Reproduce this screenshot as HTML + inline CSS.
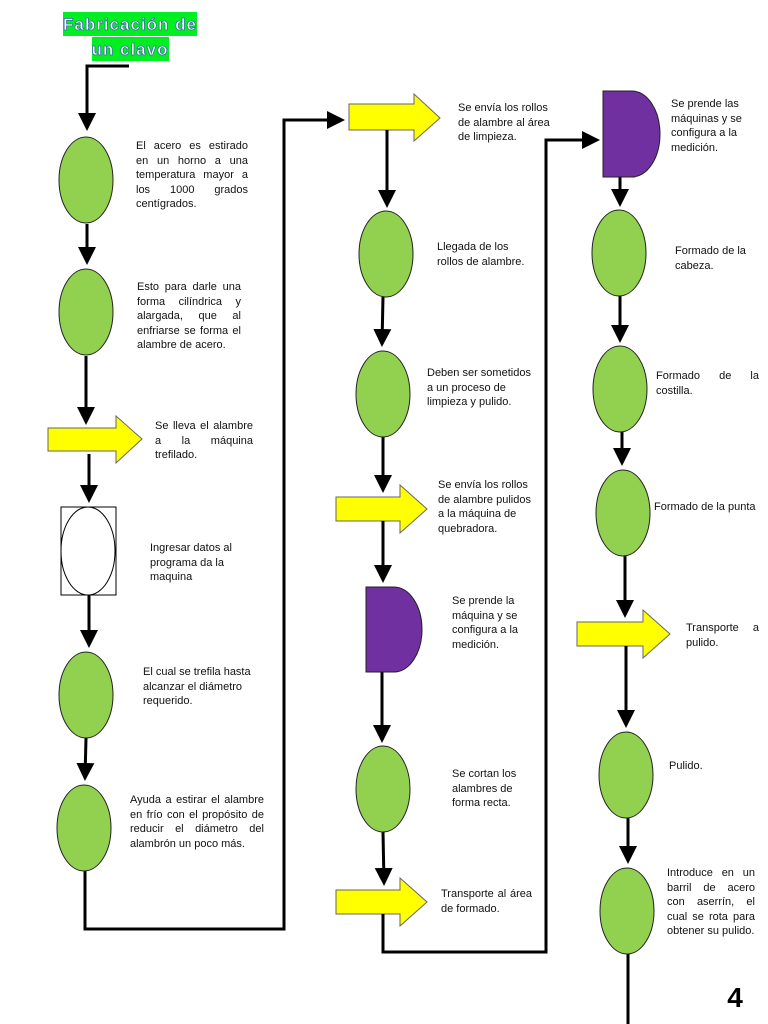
<!DOCTYPE html>
<html><head><meta charset="utf-8"><style>
html,body{margin:0;padding:0;background:#fff;}
#w{position:relative;width:768px;height:1024px;overflow:hidden;font-family:"Liberation Sans",Arial,sans-serif;}
.t{position:absolute;font-size:11px;line-height:14.5px;color:#111;}
.j{text-align:justify;text-align-last:left;}
svg{position:absolute;left:0;top:0;}
</style></head><body><div id="w">
<svg width="768" height="1024" viewBox="0 0 768 1024">
<defs><marker id="a" markerWidth="6" markerHeight="6" refX="5" refY="3" orient="auto" markerUnits="strokeWidth"><path d="M0,0 L6,3 L0,6 z" fill="#000"/></marker></defs>
<rect x="63" y="12" width="134" height="24" fill="#00ee22"/>
<rect x="92" y="37" width="77" height="24" fill="#00ee22"/>
<text x="130" y="30" font-family="Liberation Sans,sans-serif" font-weight="bold" font-size="17" fill="#fff" stroke="#3a70a0" stroke-width="0.8" text-anchor="middle" letter-spacing="1">Fabricación de</text>
<text x="130" y="55" font-family="Liberation Sans,sans-serif" font-weight="bold" font-size="17" fill="#fff" stroke="#3a70a0" stroke-width="0.8" text-anchor="middle" letter-spacing="1">un clavo</text>
<g stroke="#000" stroke-width="3" fill="none">
<polyline points="129,66 87,66 87,128" marker-end="url(#a)"/>
<line x1="87" y1="224" x2="87" y2="262" marker-end="url(#a)"/>
<line x1="86" y1="356" x2="86" y2="422" marker-end="url(#a)"/>
<line x1="89" y1="454" x2="89" y2="500" marker-end="url(#a)"/>
<line x1="89" y1="595" x2="89" y2="645" marker-end="url(#a)"/>
<line x1="86" y1="738" x2="85" y2="778" marker-end="url(#a)"/>
<polyline points="85,870 85,929 284,929 284,120 342,120" marker-end="url(#a)"/>
<line x1="387" y1="130" x2="387" y2="205" marker-end="url(#a)"/>
<line x1="383" y1="297" x2="382" y2="344" marker-end="url(#a)"/>
<line x1="383" y1="437" x2="383" y2="490" marker-end="url(#a)"/>
<line x1="383" y1="533" x2="383" y2="580" marker-end="url(#a)"/>
<line x1="382" y1="672" x2="382" y2="740" marker-end="url(#a)"/>
<line x1="383" y1="832" x2="384" y2="883" marker-end="url(#a)"/>
<polyline points="383,926 383,952 546,952 546,140 597,140" marker-end="url(#a)"/>
<line x1="620" y1="177" x2="620" y2="204" marker-end="url(#a)"/>
<line x1="620" y1="296" x2="620" y2="340" marker-end="url(#a)"/>
<line x1="622" y1="432" x2="622" y2="463" marker-end="url(#a)"/>
<line x1="625" y1="555" x2="625" y2="615" marker-end="url(#a)"/>
<line x1="626" y1="658" x2="626" y2="725" marker-end="url(#a)"/>
<line x1="628" y1="818" x2="628" y2="861" marker-end="url(#a)"/>
<line x1="628" y1="954" x2="628" y2="1024"/>
</g>
<g fill="#ffff00" stroke="#666" stroke-width="1">
<path d="M48,428 H116 V416 L142,439 L116,463 V451 H48 Z"/>
<path d="M349,104 H414 V94 L440,118 L414,141 V130 H349 Z"/>
<path d="M336,497 H400 V485 L427,509 L400,533 V521 H336 Z"/>
<path d="M336,890 H400 V878 L427,902 L400,926 V914 H336 Z"/>
<path d="M577,622 H643 V610 L670,634 L643,658 V646 H577 Z"/>
</g>
<g stroke="#000" stroke-width="3">
<line x1="89" y1="454" x2="89" y2="463"/>
<line x1="383" y1="521" x2="383" y2="533"/>
<line x1="626" y1="646" x2="626" y2="658"/>
<line x1="387" y1="130" x2="387" y2="141"/>
<line x1="383" y1="914" x2="383" y2="926"/>
</g>
<g fill="#92d050" stroke="#222" stroke-width="1">
<ellipse cx="86" cy="180" rx="27" ry="43"/>
<ellipse cx="86" cy="312" rx="27" ry="43"/>
<ellipse cx="86" cy="695" rx="27" ry="43"/>
<ellipse cx="84" cy="828" rx="27" ry="43"/>
<ellipse cx="386" cy="254" rx="27" ry="43"/>
<ellipse cx="383" cy="394" rx="27" ry="43"/>
<ellipse cx="383" cy="789" rx="27" ry="43"/>
<ellipse cx="619" cy="253" rx="27" ry="43"/>
<ellipse cx="620" cy="389" rx="27" ry="43"/>
<ellipse cx="623" cy="513" rx="27" ry="43"/>
<ellipse cx="626" cy="775" rx="27" ry="43"/>
<ellipse cx="627" cy="911" rx="27" ry="43"/>
</g>
<rect x="61" y="507" width="55" height="88" fill="#fff" stroke="#000" stroke-width="1"/>
<ellipse cx="88" cy="551" rx="27" ry="44" fill="#fff" stroke="#000" stroke-width="1"/>
<g fill="#7030a0" stroke="#222" stroke-width="1">
<path d="M366,587 H394 A28,42.5 0 0 1 394,672 H366 Z"/>
<path d="M603,91 H632 A28,43 0 0 1 632,177 H603 Z"/>
</g>
<text x="735" y="1007" font-family="Liberation Sans,sans-serif" font-weight="bold" font-size="28" fill="#000" text-anchor="middle">4</text>
</svg>
<div class="t j" style="left:136px;top:139px;width:112px">El acero es estirado en un horno a una temperatura mayor a los 1000 grados centígrados.</div>
<div class="t j" style="left:137px;top:280px;width:104px">Esto para darle una forma cilíndrica y alargada, que al enfriarse se forma el alambre de acero.</div>
<div class="t j" style="left:155px;top:419px;width:98px">Se lleva el alambre a la máquina trefilado.</div>
<div class="t" style="left:150px;top:541px;width:100px">Ingresar datos al programa da la maquina</div>
<div class="t" style="left:143px;top:665px;width:120px">El cual se trefila hasta alcanzar el diámetro requerido.</div>
<div class="t j" style="left:130px;top:793px;width:134px">Ayuda a estirar el alambre en frío con el propósito de reducir el diámetro del alambrón un poco más.</div>
<div class="t" style="left:458px;top:101px;width:100px">Se envía los rollos de alambre al área de limpieza.</div>
<div class="t" style="left:437px;top:240px;width:100px">Llegada de los rollos de alambre.</div>
<div class="t" style="left:427px;top:366px;width:106px">Deben ser sometidos a un proceso de limpieza y pulido.</div>
<div class="t" style="left:438px;top:478px;width:100px">Se envía los rollos de alambre pulidos a la máquina de quebradora.</div>
<div class="t" style="left:452px;top:594px;width:80px">Se prende la máquina y se configura a la medición.</div>
<div class="t" style="left:452px;top:767px;width:80px">Se cortan los alambres de forma recta.</div>
<div class="t j" style="left:441px;top:887px;width:91px">Transporte al área de formado.</div>
<div class="t" style="left:671px;top:97px;width:90px">Se prende las máquinas y se configura a la medición.</div>
<div class="t" style="left:675px;top:244px;width:80px">Formado de la cabeza.</div>
<div class="t j" style="left:656px;top:369px;width:103px">Formado de la costilla.</div>
<div class="t" style="left:654px;top:500px;width:110px">Formado de la punta</div>
<div class="t j" style="left:686px;top:621px;width:73px">Transporte a pulido.</div>
<div class="t" style="left:669px;top:759px;width:80px">Pulido.</div>
<div class="t j" style="left:667px;top:866px;width:88px">Introduce en un barril de acero con aserrín, el cual se rota para obtener su pulido.</div>
</div></body></html>
